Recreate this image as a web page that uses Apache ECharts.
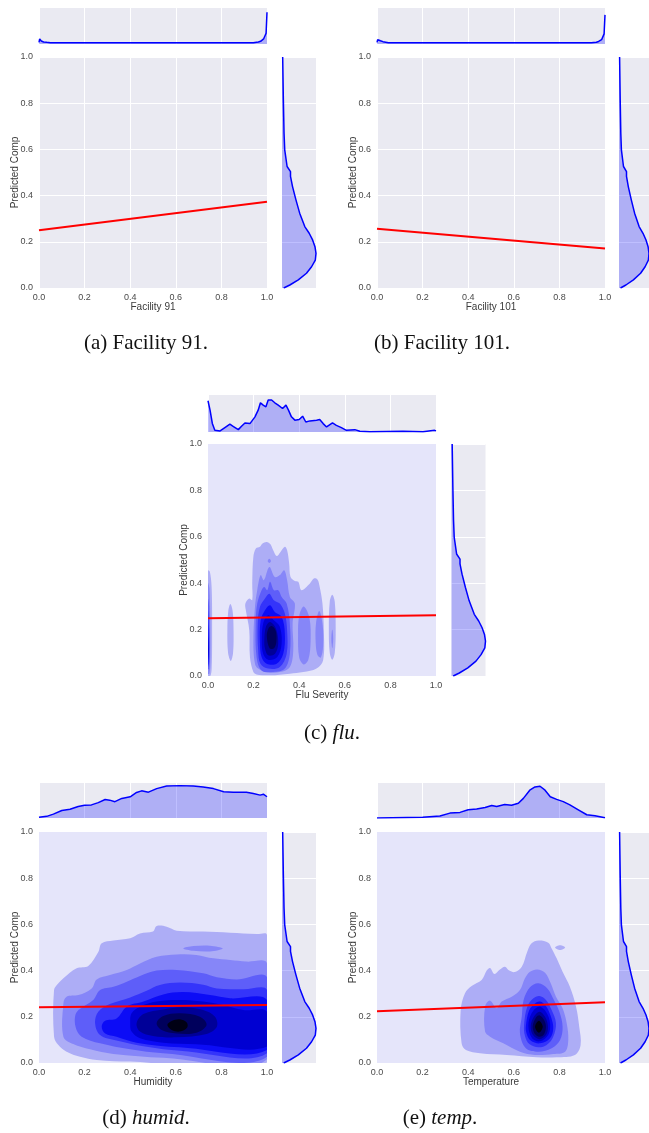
<!DOCTYPE html>
<html><head><meta charset="utf-8">
<script src="https://cdn.jsdelivr.net/npm/echarts@6/dist/echarts.min.js"></script>
<style>html,body{margin:0;padding:0;background:#fff}#c{width:649px;height:1133px}</style>
</head><body><div id="c"></div>
<script>
// ---------------- DATA ----------------
const axisTicks = [0, 0.2, 0.4, 0.6, 0.8, 1.0];
const yName = 'Predicted Comp';
const xNames = ['Facility 91', 'Facility 101', 'Flu Severity', 'Humidity', 'Temperature'];

// regression lines: value at x=0 and x=1
const regX = [0, 1];
const regA = [0.250, 0.373];
const regB = [0.257, 0.171];
const regC = [0.249, 0.262];
const regD = [0.241, 0.251];
const regE = [0.224, 0.263];

// top marginal KDEs (x, relative density)
const topA_x = [0, 0.003, 0.006, 0.01, 0.015, 0.02, 0.026, 0.034, 0.05, 0.2, 0.4, 0.6, 0.8, 0.94, 0.962, 0.972, 0.978, 0.985, 0.991, 0.996, 1.0];
const topA_d = [0.046, 0.14, 0.157, 0.083, 0.10, 0.056, 0.074, 0.046, 0.037, 0.037, 0.037, 0.037, 0.037, 0.037, 0.056, 0.074, 0.046, 0.14, 0.10, 0.30, 0.88];
const topB_x = [0, 0.003, 0.006, 0.01, 0.015, 0.02, 0.026, 0.034, 0.05, 0.2, 0.4, 0.6, 0.8, 0.94, 0.962, 0.972, 0.978, 0.985, 0.991, 0.996, 1.0];
const topB_d = [0.046, 0.12, 0.14, 0.075, 0.09, 0.05, 0.065, 0.046, 0.037, 0.037, 0.037, 0.037, 0.037, 0.037, 0.05, 0.07, 0.046, 0.12, 0.09, 0.28, 0.81];
const topC_x = [0, 0.009, 0.019, 0.03, 0.053, 0.074, 0.096, 0.11, 0.133, 0.147, 0.162, 0.184, 0.206, 0.22, 0.23, 0.242, 0.254, 0.264, 0.279, 0.293, 0.308, 0.327, 0.342, 0.353, 0.366, 0.381, 0.4, 0.415, 0.429, 0.447, 0.476, 0.49, 0.505, 0.52, 0.546, 0.563, 0.585, 0.607, 0.644, 0.666, 0.71, 0.855, 0.943, 0.994, 1.0];
const topC_d = [0.845, 0.59, 0.23, 0.045, 0.03, 0.12, 0.21, 0.155, 0.064, 0.155, 0.245, 0.227, 0.41, 0.59, 0.79, 0.727, 0.68, 0.864, 0.864, 0.79, 0.727, 0.636, 0.727, 0.59, 0.41, 0.32, 0.336, 0.427, 0.27, 0.30, 0.32, 0.336, 0.227, 0.136, 0.245, 0.18, 0.118, 0.045, 0.064, 0.018, 0.01, 0.018, 0.01, 0.045, 0.03];
const topD_x = [0, 0.034, 0.063, 0.1, 0.136, 0.172, 0.2, 0.23, 0.26, 0.29, 0.31, 0.333, 0.363, 0.4, 0.428, 0.45, 0.48, 0.516, 0.56, 0.618, 0.677, 0.72, 0.765, 0.81, 0.852, 0.91, 0.94, 0.97, 0.984, 1.0];
const topD_d = [0.02, 0.047, 0.11, 0.215, 0.25, 0.327, 0.364, 0.374, 0.44, 0.53, 0.51, 0.467, 0.56, 0.607, 0.73, 0.776, 0.738, 0.84, 0.916, 0.925, 0.916, 0.888, 0.84, 0.748, 0.738, 0.738, 0.70, 0.654, 0.68, 0.607];
const topE_x = [0, 0.2, 0.276, 0.32, 0.364, 0.4, 0.437, 0.474, 0.503, 0.525, 0.56, 0.59, 0.62, 0.642, 0.67, 0.693, 0.715, 0.737, 0.76, 0.788, 0.817, 0.846, 0.883, 0.92, 0.956, 1.0];
const topE_d = [0.0, 0.02, 0.056, 0.14, 0.16, 0.234, 0.26, 0.30, 0.355, 0.327, 0.383, 0.364, 0.42, 0.56, 0.794, 0.888, 0.907, 0.794, 0.607, 0.533, 0.467, 0.374, 0.234, 0.093, 0.065, 0.01];

// right marginal KDE of Predicted Comp (value, relative density)
const rightY = [1.0, 0.815, 0.67, 0.598, 0.526, 0.504, 0.483, 0.439, 0.3815, 0.324, 0.266, 0.237, 0.208, 0.179, 0.150, 0.121, 0.092, 0.064, 0.035, 0.013, 0.0];
const rightD = [0.02, 0.04, 0.06, 0.08, 0.15, 0.25, 0.25, 0.31, 0.41, 0.52, 0.67, 0.80, 0.90, 0.97, 1.0, 0.98, 0.87, 0.72, 0.48, 0.23, 0.05];

// KDE contour levels: [level, [[x, y], ...]]
const fluContours = [
  [1, [[0,0],[0,0.455],[0.008,0.45],[0.016,0.38],[0.018,0.2],[0.016,0.03],[0.01,0]]],
  [1, [[0.098,0.31],[0.108,0.28],[0.112,0.2],[0.11,0.1],[0.1,0.065],[0.088,0.1],[0.085,0.2],[0.089,0.28]]],
  [1, [[0.199,0.017],[0.184,0.082],[0.181,0.197],[0.166,0.283],[0.164,0.312],[0.181,0.334],[0.194,0.327],[0.194,0.40],[0.199,0.514],[0.21,0.55],[0.228,0.557],[0.239,0.571],[0.257,0.578],[0.274,0.568],[0.286,0.542],[0.301,0.517],[0.318,0.535],[0.337,0.557],[0.347,0.542],[0.356,0.485],[0.362,0.427],[0.381,0.41],[0.396,0.406],[0.41,0.37],[0.447,0.399],[0.464,0.42],[0.48,0.416],[0.49,0.384],[0.502,0.312],[0.508,0.197],[0.505,0.068],[0.476,0.032],[0.418,0.017],[0.359,0.01],[0.272,0.003],[0.213,0.007]]],
  [1, [[0.545,0.35],[0.556,0.32],[0.56,0.2],[0.556,0.1],[0.545,0.07],[0.534,0.1],[0.53,0.2],[0.534,0.32]]],
  [2, [[0,0.01],[0,0.4],[0.006,0.38],[0.01,0.25],[0.01,0.05],[0.006,0.01]]],
  [2, [[0.206,0.053],[0.199,0.14],[0.206,0.298],[0.216,0.37],[0.231,0.435],[0.245,0.413],[0.269,0.47],[0.293,0.427],[0.315,0.435],[0.334,0.456],[0.347,0.413],[0.359,0.341],[0.381,0.312],[0.371,0.226],[0.374,0.111],[0.359,0.039],[0.315,0.017],[0.257,0.017],[0.22,0.032]]],
  [2, [[0.42,0.3],[0.445,0.25],[0.45,0.15],[0.44,0.07],[0.42,0.05],[0.4,0.08],[0.395,0.18],[0.4,0.26]]],
  [2, [[0.488,0.28],[0.503,0.22],[0.505,0.13],[0.495,0.08],[0.48,0.09],[0.472,0.15],[0.474,0.23]]],
  [2, [[0.545,0.2],[0.549,0.16],[0.545,0.12],[0.541,0.16]]],
  [2, [[0.262,0.496],[0.269,0.505],[0.276,0.496],[0.269,0.487]]],
  [3, [[0,0.03],[0,0.33],[0.005,0.3],[0.007,0.1],[0.005,0.03]]],
  [3, [[0.213,0.082],[0.209,0.226],[0.216,0.312],[0.235,0.37],[0.247,0.384],[0.26,0.37],[0.272,0.406],[0.289,0.37],[0.308,0.37],[0.323,0.341],[0.345,0.312],[0.359,0.226],[0.359,0.096],[0.337,0.032],[0.286,0.017],[0.235,0.024]]],
  [4, [[0,0.04],[0,0.28],[0.005,0.2],[0.005,0.06]]],
  [4, [[0.22,0.111],[0.218,0.226],[0.228,0.298],[0.25,0.334],[0.269,0.355],[0.289,0.327],[0.315,0.312],[0.337,0.269],[0.347,0.197],[0.345,0.096],[0.315,0.039],[0.264,0.032],[0.23,0.053]]],
  [5, [[0,0.05],[0,0.22],[0.004,0.12]]],
  [5, [[0.228,0.14],[0.231,0.24],[0.25,0.283],[0.272,0.305],[0.293,0.276],[0.323,0.255],[0.337,0.183],[0.33,0.096],[0.301,0.053],[0.257,0.053],[0.235,0.082]]],
  [6, [[0,0.07],[0,0.17],[0.003,0.11]]],
  [6, [[0.236,0.154],[0.242,0.226],[0.264,0.262],[0.289,0.24],[0.315,0.212],[0.323,0.14],[0.304,0.082],[0.264,0.07],[0.242,0.096]]],
  [7, [[0.247,0.154],[0.254,0.212],[0.272,0.233],[0.298,0.205],[0.308,0.14],[0.294,0.096],[0.264,0.089],[0.25,0.118]]],
  [8, [[0.258,0.17],[0.265,0.205],[0.28,0.215],[0.297,0.195],[0.3,0.15],[0.29,0.12],[0.27,0.12]]]
];

const humidContours = [
  [1, [[0.066,0.114],[0.066,0.316],[0.085,0.345],[0.107,0.367],[0.165,0.41],[0.216,0.42],[0.26,0.48],[0.275,0.518],[0.326,0.53],[0.40,0.54],[0.443,0.561],[0.50,0.569],[0.516,0.593],[0.56,0.59],[0.604,0.573],[0.72,0.569],[0.838,0.564],[0.955,0.558],[1.0,0.554],[1.0,0.003],[0.40,0.006],[0.253,0.013],[0.18,0.027],[0.121,0.049],[0.085,0.078]]],
  [2, [[0.107,0.258],[0.121,0.287],[0.173,0.294],[0.231,0.323],[0.253,0.362],[0.311,0.381],[0.385,0.403],[0.443,0.431],[0.516,0.46],[0.604,0.47],[0.69,0.468],[0.765,0.453],[0.838,0.446],[0.91,0.439],[1.0,0.431],[1.0,0.016],[0.545,0.023],[0.326,0.039],[0.224,0.059],[0.15,0.082],[0.107,0.114]]],
  [2, [[0.633,0.496],[0.677,0.506],[0.75,0.508],[0.806,0.496],[0.75,0.483],[0.677,0.486]]],
  [3, [[0.158,0.2],[0.173,0.229],[0.238,0.273],[0.268,0.316],[0.326,0.33],[0.385,0.352],[0.443,0.377],[0.516,0.40],[0.604,0.403],[0.72,0.388],[0.78,0.371],[0.867,0.362],[1.0,0.371],[1.0,0.027],[0.545,0.042],[0.40,0.059],[0.268,0.085],[0.187,0.114],[0.162,0.15]]],
  [4, [[0.246,0.172],[0.26,0.222],[0.311,0.255],[0.40,0.284],[0.472,0.313],[0.53,0.338],[0.618,0.348],[0.72,0.339],[0.78,0.323],[0.896,0.319],[1.0,0.316],[1.0,0.042],[0.618,0.053],[0.472,0.07],[0.34,0.097],[0.268,0.121]]],
  [5, [[0.275,0.157],[0.29,0.183],[0.34,0.193],[0.385,0.244],[0.458,0.266],[0.545,0.297],[0.633,0.307],[0.75,0.294],[0.838,0.28],[1.0,0.273],[1.0,0.056],[0.618,0.068],[0.428,0.088],[0.34,0.114],[0.29,0.128]]],
  [6, [[0.40,0.172],[0.406,0.215],[0.443,0.244],[0.516,0.266],[0.618,0.273],[0.72,0.266],[0.808,0.251],[0.896,0.229],[1.0,0.222],[1.0,0.071],[0.69,0.081],[0.545,0.088],[0.443,0.107],[0.406,0.136]]],
  [7, [[0.428,0.172],[0.458,0.212],[0.545,0.232],[0.633,0.241],[0.72,0.229],[0.772,0.2],[0.78,0.157],[0.735,0.126],[0.604,0.111],[0.50,0.117],[0.443,0.136]]],
  [8, [[0.516,0.172],[0.545,0.203],[0.618,0.215],[0.706,0.2],[0.735,0.165],[0.69,0.131],[0.604,0.128],[0.538,0.143]]],
  [9, [[0.563,0.165],[0.582,0.182],[0.618,0.189],[0.648,0.175],[0.65,0.154],[0.618,0.136],[0.582,0.143]]]
];

const tempContours = [
  [1, [[0.371,0.085],[0.367,0.229],[0.386,0.302],[0.415,0.333],[0.459,0.359],[0.481,0.40],[0.496,0.411],[0.515,0.385],[0.539,0.405],[0.561,0.417],[0.58,0.40],[0.605,0.394],[0.635,0.417],[0.659,0.482],[0.678,0.518],[0.708,0.53],[0.751,0.521],[0.766,0.496],[0.788,0.453],[0.814,0.395],[0.846,0.33],[0.873,0.244],[0.887,0.157],[0.893,0.078],[0.868,0.035],[0.788,0.025],[0.70,0.025],[0.569,0.035],[0.452,0.042],[0.39,0.056]]],
  [1, [[0.781,0.50],[0.803,0.51],[0.825,0.50],[0.803,0.489]]],
  [2, [[0.474,0.136],[0.474,0.244],[0.496,0.27],[0.525,0.237],[0.547,0.266],[0.591,0.287],[0.627,0.316],[0.649,0.367],[0.671,0.395],[0.703,0.405],[0.737,0.391],[0.762,0.345],[0.785,0.287],[0.814,0.237],[0.832,0.172],[0.839,0.1],[0.825,0.049],[0.773,0.039],[0.693,0.035],[0.627,0.049],[0.554,0.085],[0.496,0.114]]],
  [3, [[0.635,0.2],[0.643,0.273],[0.671,0.328],[0.708,0.345],[0.747,0.323],[0.776,0.273],[0.8,0.222],[0.814,0.157],[0.803,0.1],[0.766,0.064],[0.708,0.049],[0.653,0.064],[0.627,0.128]]],
  [4, [[0.645,0.165],[0.659,0.244],[0.686,0.28],[0.712,0.29],[0.741,0.273],[0.766,0.229],[0.785,0.172],[0.773,0.114],[0.744,0.078],[0.708,0.068],[0.668,0.082],[0.649,0.117]]],
  [5, [[0.653,0.16],[0.668,0.229],[0.693,0.258],[0.715,0.266],[0.741,0.247],[0.763,0.2],[0.773,0.15],[0.759,0.107],[0.715,0.085],[0.674,0.097],[0.656,0.128]]],
  [6, [[0.664,0.16],[0.678,0.215],[0.71,0.244],[0.741,0.222],[0.759,0.172],[0.751,0.121],[0.715,0.094],[0.68,0.107]]],
  [7, [[0.674,0.16],[0.69,0.203],[0.713,0.222],[0.737,0.2],[0.75,0.157],[0.741,0.121],[0.713,0.103],[0.684,0.121]]],
  [8, [[0.683,0.16],[0.698,0.198],[0.714,0.206],[0.733,0.186],[0.741,0.154],[0.73,0.121],[0.71,0.114],[0.691,0.128]]],
  [9, [[0.693,0.157],[0.71,0.183],[0.727,0.157],[0.71,0.131]]]
];

// ---------------- STYLE / LAYOUT ----------------
const levelColors = ['#E5E5FA','#ADADF6','#8686F8','#5E5EF9','#3434FA','#0C0CF6','#0000D2','#000098','#00005C','#000014'];
const SANS = 'Liberation Sans, Arial, sans-serif';
const SERIF = 'Liberation Serif, Times New Roman, serif';
const panels = [
  {main:[39,57,228,231], top:[39,8,228,36], right:[282,57,34,231], xname:xNames[0], gridBg:'#EAEAF2', grid:true, tx:topA_x, td:topA_d, reg:regA, cont:null},
  {main:[377,57,228,231], top:[377,8,228,36], right:[619,57,34,231], xname:xNames[1], gridBg:'#EAEAF2', grid:true, tx:topB_x, td:topB_d, reg:regB, cont:null},
  {main:[208,444,228,232], top:[208,395,228,37], right:[451.5,444,34,232], xname:xNames[2], gridBg:levelColors[0], grid:false, tx:topC_x, td:topC_d, reg:regC, cont:fluContours},
  {main:[39,832,228,231], top:[39,783,228,35], right:[282,832,34,231], xname:xNames[3], gridBg:levelColors[0], grid:false, tx:topD_x, td:topD_d, reg:regD, cont:humidContours},
  {main:[377,832,228,231], top:[377,783,228,35], right:[619,832,34,231], xname:xNames[4], gridBg:levelColors[0], grid:false, tx:topE_x, td:topE_d, reg:regE, cont:tempContours}
];

const grids = [], xAxes = [], yAxes = [], series = [];
const hidden = {axisLine:{show:false}, axisTick:{show:false}, axisLabel:{show:false}};
function addGrid(r, bg) {
  grids.push({left:r[0], top:r[1], width:r[2], height:r[3], show:true, backgroundColor:bg, borderWidth:0});
  return grids.length - 1;
}
const fmt = v => v.toFixed(1);
const white = {show:true, lineStyle:{color:'#ffffff', width:1}};

panels.forEach(p => {
  // main
  const gm = addGrid(p.main, p.gridBg);
  xAxes.push({gridIndex:gm, type:'value', min:axisTicks[0], max:axisTicks[axisTicks.length-1], interval:0.2,
    axisLine:{show:false}, axisTick:{show:false},
    axisLabel:{fontSize:9, color:'#4a4a4a', margin:5, formatter:fmt, fontFamily:SANS},
    splitLine:p.grid ? white : {show:false},
    name:p.xname, nameLocation:'middle', nameGap:14, nameMoveOverlap:false,
    nameTextStyle:{fontSize:10, color:'#3a3a3a', fontFamily:SANS}});
  yAxes.push({gridIndex:gm, type:'value', min:axisTicks[0], max:axisTicks[axisTicks.length-1], interval:0.2,
    axisLine:{show:false}, axisTick:{show:false},
    axisLabel:{fontSize:9, color:'#4a4a4a', margin:6, formatter:fmt, fontFamily:SANS},
    splitLine:p.grid ? white : {show:false},
    name:yName, nameLocation:'middle', nameGap:19, nameMoveOverlap:false,
    nameTextStyle:{fontSize:10, color:'#3a3a3a', fontFamily:SANS}});
  if (p.cont) {
    const cont = p.cont;
    series.push({type:'custom', xAxisIndex:gm, yAxisIndex:gm, silent:true, clip:true, z:2,
      data:cont.map(c => [c[1][0][0], c[1][0][1]]),
      renderItem:(params, api) => {
        const c = cont[params.dataIndex];
        return {type:'polygon', shape:{points:c[1].map(pt => api.coord(pt)), smooth:0.35},
          style:{fill:levelColors[c[0]], stroke:null}};
      }});
  }
  series.push({type:'line', xAxisIndex:gm, yAxisIndex:gm, z:5, silent:true, showSymbol:false,
    data:regX.map((x, i) => [x, p.reg[i]]), lineStyle:{color:'#ff0000', width:2}});

  // top marginal
  const gt = addGrid(p.top, '#EAEAF2');
  xAxes.push(Object.assign({gridIndex:gt, type:'value', min:0, max:1, interval:0.2, splitLine:white}, hidden));
  yAxes.push(Object.assign({gridIndex:gt, type:'value', min:0, max:1, splitLine:{show:false}}, hidden));
  series.push({type:'line', xAxisIndex:gt, yAxisIndex:gt, silent:true, showSymbol:false,
    data:p.tx.map((x, i) => [x, p.td[i]]),
    lineStyle:{color:'#0000ff', width:1.5}, areaStyle:{color:'#0000ff', opacity:0.25}});

  // right marginal
  const gr = addGrid(p.right, '#EAEAF2');
  xAxes.push(Object.assign({gridIndex:gr, type:'value', min:0, max:1, splitLine:{show:false}}, hidden));
  yAxes.push(Object.assign({gridIndex:gr, type:'value', min:0, max:1, interval:0.2, splitLine:white}, hidden));
  series.push({type:'custom', xAxisIndex:gr, yAxisIndex:gr, silent:true, clip:true, data:[[0, 0]],
    renderItem:(params, api) => {
      const pts = [api.coord([0, rightY[0]])];
      rightY.forEach((y, i) => pts.push(api.coord([rightD[i], y])));
      pts.push(api.coord([0, rightY[rightY.length-1]]));
      return {type:'polygon', shape:{points:pts}, style:{fill:'rgba(0,0,255,0.25)'}};
    }});
  series.push({type:'line', xAxisIndex:gr, yAxisIndex:gr, silent:true, showSymbol:false,
    data:rightY.map((y, i) => [rightD[i], y]), lineStyle:{color:'#0000ff', width:1.5}});
});

const CAP = 21;
const capStyle = {fontFamily:SERIF, fontSize:CAP, color:'#111'};
const capItal = {fontFamily:SERIF, fontSize:CAP, fontStyle:'italic', color:'#111'};
function caption(x, y, txt) {
  return {type:'text', x:x, y:y, silent:true,
    style:{text:txt, textAlign:'center', textVerticalAlign:'middle', rich:{n:capStyle, i:capItal}, fill:'#111', font:CAP + 'px ' + SERIF}};
}

const chart = echarts.init(document.getElementById('c'), null, {renderer:'canvas'});
chart.setOption({
  animation:false,
  grid:grids, xAxis:xAxes, yAxis:yAxes, series:series,
  graphic:[
    caption(146, 343, '{n|(a) Facility 91.}'),
    caption(442, 343, '{n|(b) Facility 101.}'),
    caption(332, 733, '{n|(c) }{i|flu}{n|.}'),
    caption(146, 1118, '{n|(d) }{i|humid}{n|.}'),
    caption(440, 1118, '{n|(e) }{i|temp}{n|.}')
  ]
});
</script></body></html>
